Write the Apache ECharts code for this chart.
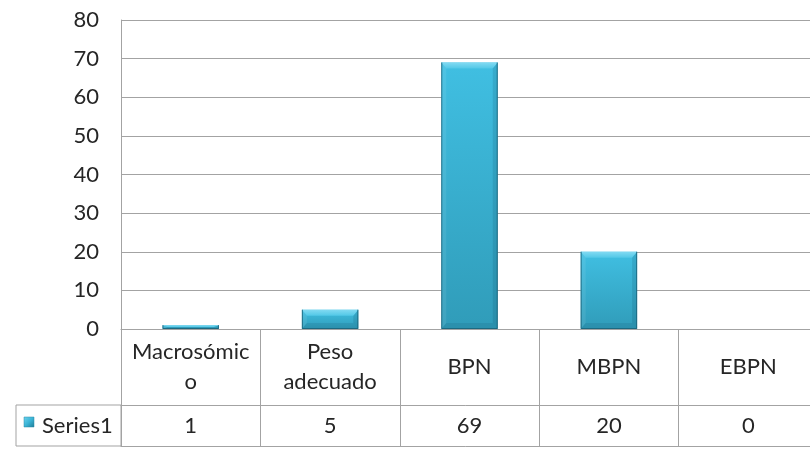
<!DOCTYPE html>
<html>
<head>
<meta charset="utf-8">
<script src="https://cdn.jsdelivr.net/npm/echarts@6/dist/echarts.min.js"></script>
<style>
  html, body { margin: 0; padding: 0; background: #ffffff; }
  #chart { width: 810px; height: 450px; }
</style>
</head>
<body>
<div id="chart"></div>
<script>
// Birth-weight categories and counts
const categories = ['Macrosómic\no', 'Peso\nadecuado', 'BPN', 'MBPN', 'EBPN'];
const seriesName = 'Series1';
const values = [1, 5, 69, 20, 0];
const yMin = 0;
const yMax = 80;
const yStep = 10;

// Layout of the plot and the data table under it
const GRID_LEFT = 121, GRID_TOP = 20, GRID_W = 697, GRID_H = 309;
const ROW1_H = 76, ROW2_H = 41;
const TABLE_LEFT = 16;
const LINE = '#a3a3a3';
const TEXT = '#262626';
const FONT = 'Lato';
const FS = 22;

const chart = echarts.init(document.getElementById('chart'));

// Bevelled bar, drawn from the category index and value through the axes
function renderBar(params, api) {
  const i = api.value(0), v = api.value(1);
  if (!v) return { type: 'group', children: [] };
  const top = api.coord([i, v]);
  const base = api.coord([i, 0]);
  const band = api.size([1, 0])[0];
  const w = band * 0.405;
  const x0 = top[0] - w / 2, x1 = top[0] + w / 2;
  const y0 = top[1], y1 = base[1];
  const h = y1 - y0;
  const b = Math.min(6, h / 2);
  const s = Math.min(5, w / 2);
  return {
    type: 'group',
    children: [
      { type: 'rect', shape: { x: x0, y: y0, width: w, height: h },
        style: { fill: new echarts.graphic.LinearGradient(0, 0, 0, 1, [
          { offset: 0, color: '#40bfe2' }, { offset: 1, color: '#309cb9' }]) } },
      { type: 'polygon', shape: { points: [[x0, y0], [x1, y0], [x1 - s, y0 + b], [x0 + s, y0 + b]] },
        style: { fill: new echarts.graphic.LinearGradient(0, 0, 0, 1, [
          { offset: 0, color: '#82daf2' }, { offset: 1, color: '#52c8e7' }]) } },
      { type: 'polygon', shape: { points: [[x0, y0], [x0 + s, y0 + b], [x0 + s, y1 - b], [x0, y1]] },
        style: { fill: 'rgba(255,255,255,0.08)' } },
      { type: 'polygon', shape: { points: [[x1, y0], [x1, y1], [x1 - s, y1 - b], [x1 - s, y0 + b]] },
        style: { fill: 'rgba(10,60,80,0.14)' } },
      { type: 'polygon', shape: { points: [[x0, y1], [x0 + s, y1 - b], [x1 - s, y1 - b], [x1, y1]] },
        style: { fill: 'rgba(10,60,80,0.12)' } },
      { type: 'polyline', shape: { points: [[x0 + 0.5, y0], [x0 + 0.5, y1 - 0.5], [x1 - 0.5, y1 - 0.5], [x1 - 0.5, y0]] },
        style: { stroke: 'rgba(25,95,118,0.8)', lineWidth: 1, fill: null } }
    ]
  };
}

const option = {
  animation: false,
  backgroundColor: '#ffffff',
  grid: { left: GRID_LEFT, top: GRID_TOP, width: GRID_W, height: GRID_H, outerBoundsMode: 'none', containLabel: false },
  xAxis: [
    {
      type: 'category', data: categories, position: 'bottom',
      axisLine: { show: true, lineStyle: { color: LINE, width: 1 } },
      axisTick: { show: true, length: ROW1_H + ROW2_H, lineStyle: { color: LINE, width: 1 } },
      axisLabel: { interval: 0, margin: ROW1_H / 2, verticalAlign: 'middle',
        fontFamily: FONT, fontSize: FS, color: TEXT, lineHeight: 30, align: 'center' },
      splitLine: { show: false }
    },
    {
      type: 'category', data: categories, position: 'bottom', offset: ROW1_H,
      axisLine: { show: true, lineStyle: { color: LINE, width: 1 } },
      axisTick: { show: false },
      axisLabel: { interval: 0, margin: ROW2_H / 2, verticalAlign: 'middle',
        fontFamily: FONT, fontSize: FS, color: TEXT,
        formatter: (val, idx) => String(values[idx]) },
      splitLine: { show: false }
    },
    {
      type: 'category', data: categories, position: 'bottom', offset: ROW1_H + ROW2_H,
      axisLine: { show: true, lineStyle: { color: LINE, width: 1 } },
      axisTick: { show: false }, axisLabel: { show: false }, splitLine: { show: false }
    }
  ],
  yAxis: {
    type: 'value', min: yMin, max: yMax, interval: yStep,
    axisLine: { show: true, lineStyle: { color: LINE, width: 1 } },
    axisTick: { show: false },
    axisLabel: { margin: 22, fontFamily: FONT, fontSize: FS, color: TEXT },
    splitLine: { show: true, lineStyle: { color: LINE, width: 1 } }
  },
  series: [{
    name: seriesName,
    type: 'custom',
    xAxisIndex: 0, yAxisIndex: 0,
    renderItem: renderBar,
    data: values.map((v, i) => [i, v]),
    clip: false
  }],
  graphic: [
    // Legend cell of the data table
    { type: 'rect', silent: true,
      shape: { x: TABLE_LEFT, y: GRID_TOP + GRID_H + ROW1_H, width: GRID_LEFT - TABLE_LEFT, height: ROW2_H },
      style: { fill: null, stroke: LINE, lineWidth: 1 } },
    { type: 'rect', silent: true,
      shape: { x: 24, y: GRID_TOP + GRID_H + ROW1_H + 12, width: 10, height: 10 },
      style: { fill: new echarts.graphic.LinearGradient(0, 0, 1, 1, [
        { offset: 0, color: '#6fd3ee' }, { offset: 0.5, color: '#3bb4d6' }, { offset: 1, color: '#1f7c96' }]),
        stroke: '#2a8aa5', lineWidth: 0.5 } },
    { type: 'text', silent: true,
      style: { x: 42, y: GRID_TOP + GRID_H + ROW1_H + ROW2_H / 2, text: seriesName,
        fontFamily: FONT, fontSize: FS, fill: TEXT, verticalAlign: 'middle', align: 'left' } }
  ]
};

chart.setOption(option);
</script>
</body>
</html>
